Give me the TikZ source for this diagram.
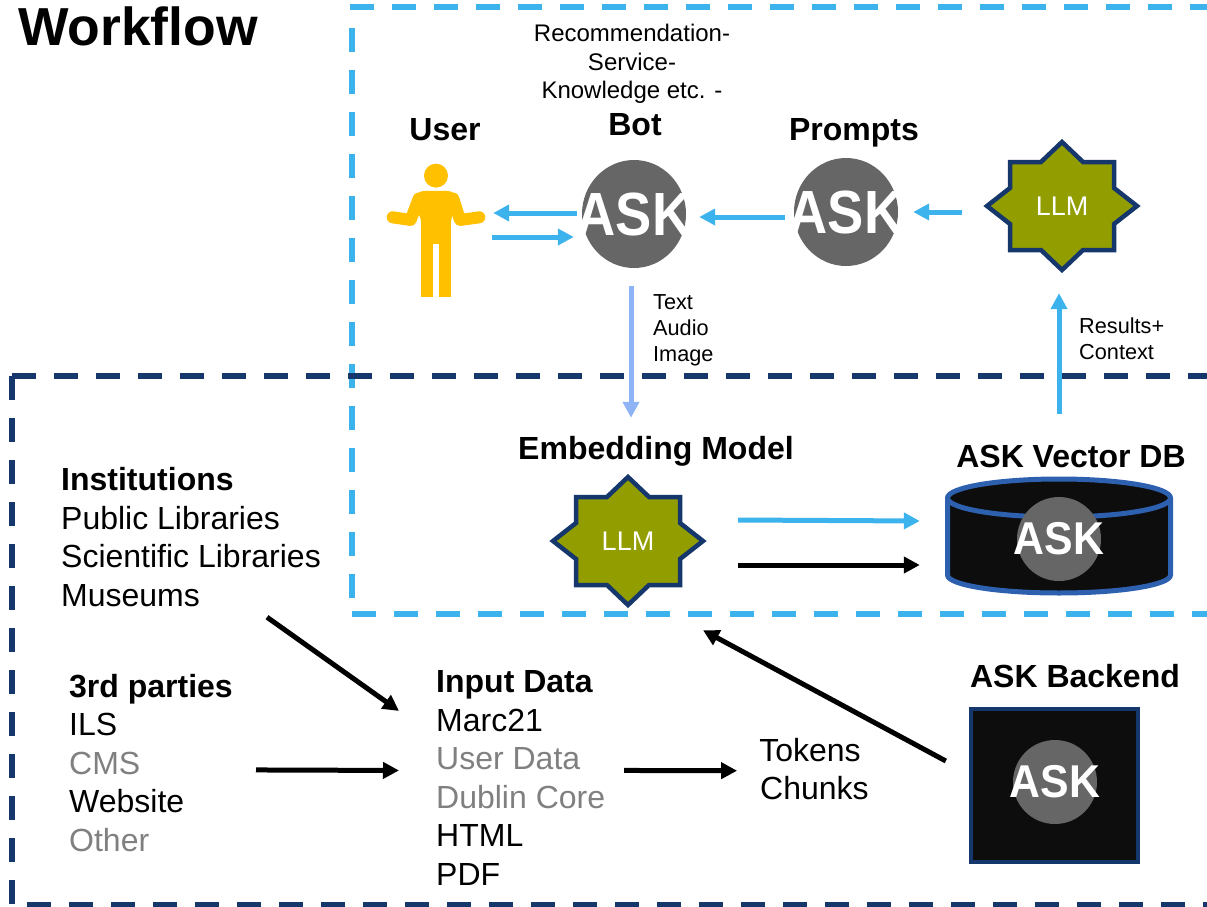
\documentclass[tikz,border=0pt]{standalone}
\usepackage{graphicx}
\usepackage{fontspec}
\setmainfont{Liberation Sans}
\usetikzlibrary{arrows.meta,shapes.geometric}
\definecolor{skyblue}{HTML}{3DB3EE}
\definecolor{navyline}{HTML}{15376B}
\definecolor{paleblue}{HTML}{8FB4F5}
\definecolor{olivefill}{HTML}{929E00}
\definecolor{dbblue}{HTML}{2E60B0}
\definecolor{nearblack}{HTML}{0D0D0D}
\definecolor{logogray}{HTML}{666666}
\definecolor{mutedtext}{HTML}{808080}
\definecolor{personyellow}{HTML}{FFC000}
\newcommand{\fs}[2]{\fontsize{#1}{#2}\selectfont}
\newcommand{\muted}[1]{\textcolor{mutedtext}{#1}}
\newcommand{\biglogo}{\makebox[0pt]{\scalebox{0.89}[1]{ASK}}}
\newcommand{\smalllogo}{\makebox[0pt]{\scalebox{0.93}[1]{ASK}}}
\newcommand{\llmstar}[3]{%
  \filldraw[fill=olivefill,draw=navyline,line width=4.5pt,miter limit=10]
    (#1,#2) ++(0,-64) -- ++(21,20) -- ++(31,0) -- ++(0,26) -- ++(23,18)
    -- ++(-23,18) -- ++(0,26) -- ++(-31,0) -- ++(-21,20) -- ++(-21,-20)
    -- ++(-31,0) -- ++(0,-26) -- ++(-23,-18) -- ++(23,-18) -- ++(0,-26)
    -- ++(31,0) -- cycle;
  \node[llmlabel] (#3) at (#1,#2) {LLM};}
\tikzset{
  x=1pt,y=-1pt,
  skydash/.style={draw=skyblue,line width=6pt,dash pattern=on 24pt off 18pt},
  navydash/.style={draw=navyline,line width=6pt,dash pattern=on 24pt off 18pt},
  blueflow/.style={draw=skyblue,line width=5pt,-{Triangle[length=16pt,width=16pt]}},
  paleflow/.style={draw=paleblue,line width=5pt,-{Triangle[length=16pt,width=16pt]}},
  blackflow/.style={draw=black,line width=5pt,-{Triangle[length=16pt,width=16pt]}},
  asklogo/.style={ellipse,fill=logogray,inner sep=0pt,text=white,font=\bfseries\fs{61}{61},minimum width=104pt,minimum height=108pt},
  asksmall/.style={circle,fill=logogray,inner sep=0pt,text=white,font=\bfseries\fs{46}{46},minimum size=84pt},
  llmlabel/.style={inner sep=0pt,text=white,font=\fs{27}{27},minimum width=146pt,minimum height=124pt},
  heading/.style={inner sep=0pt,font=\bfseries\fs{32}{38.5}},
  listing/.style={inner sep=0pt,anchor=north west,align=left,font=\fs{32}{38.5}},
  smalllabel/.style={inner sep=0pt,anchor=north west,align=left,font=\fs{21.7}{26}},
}
\begin{document}
\begin{tikzpicture}
\useasboundingbox (0,0) rectangle (1207,907);
% frames
\draw[skydash] (350,7) -- (1207,7);
\draw[skydash] (352,28) -- (352,598);
\draw[skydash] (352,614) -- (1207,614);
\draw[navydash] (12,376) -- (1207,376);
\draw[navydash] (12,376) -- (12,905);
\draw[navydash] (27,905) -- (1207,905);
% title
\node[inner sep=0pt,anchor=base west,font=\bfseries\fs{53.5}{53.5}] (title) at (18,46) {Workflow};
% user
\node[inner sep=0pt,minimum width=98pt,minimum height=130pt] (user) at (436,232) {};
\begin{scope}[shift={(370,0)},x=0.3333pt,y=-0.3333pt]
  \fill[personyellow] (198,527) circle (12pt);
  \fill[personyellow,rounded corners=9pt] (153,760) -- (153,640) -- (125,620) -- (135,573) -- (260,573) -- (270,620) -- (243,640) -- (243,760) -- cycle;
  \fill[personyellow] (153,732) rectangle (189,890);
  \fill[personyellow] (207,732) rectangle (243,890);
  \fill[white] (189,732) rectangle (207,770);
  \draw[personyellow,line width=12pt,line cap=round,line join=round] (68,652) -- (122,660) -- (146,596);
  \draw[personyellow,line width=12pt,line cap=round,line join=round] (328,652) -- (270,660) -- (250,596);
\end{scope}
\node[heading] (userlabel) at (445,130) {User};
% bot
\node[asklogo] (bot) at (634,214) {\biglogo};
\node[heading] (botlabel) at (635,125) {Bot};
\node[inner sep=0pt,anchor=north,align=center,font=\fs{24}{28.5}] (botkinds) at (632,24) {Recommendation-\\Service-\\Knowledge etc. -};
% prompts
\node[asklogo] (prompts) at (846,212) {\biglogo};
\node[heading] (promptslabel) at (854,133) {Prompts};
% LLMs
\llmstar{1062}{206}{llmtop}
\llmstar{628}{541}{llmembed}
\node[heading] (embedlabel) at (656,451) {Embedding Model};
% vector DB
\filldraw[fill=nearblack,draw=dbblue,line width=5pt] (947.5,498) -- (947.5,575) arc[start angle=180,end angle=360,x radius=111.5pt,y radius=18pt] -- (1170.5,498) arc[start angle=0,end angle=180,x radius=111.5pt,y radius=19pt] -- cycle;
\draw[draw=dbblue,line width=5pt] (947.5,498) arc[start angle=180,end angle=360,x radius=111.5pt,y radius=19pt];
\node[asksmall] (vectordb) at (1059,539) {\smalllogo};
\node[heading] (vectorlabel) at (1071,456) {ASK Vector DB};
% backend
\draw[fill=nearblack,draw=navyline,line width=4.5pt] (971,709) rectangle (1138,862);
\node[asksmall] (backend) at (1055,782) {\smalllogo};
\node[heading] (backendlabel) at (1075,676) {ASK Backend};
% lists
\node[listing] (institutions) at (61,467.5) {\textbf{Institutions}\\Public Libraries\\Scientific Libraries\\Museums};
\node[listing] (parties) at (69,674) {\textbf{3rd parties}\\ILS\\\muted{CMS}\\Website\\\muted{Other}};
\node[listing] (input) at (436,670.5) {\textbf{Input Data}\\Marc21\\\muted{User Data}\\\muted{Dublin Core}\\HTML\\PDF};
\node[inner sep=0pt,anchor=north,align=center,font=\fs{32}{38.5}] (tokens) at (810,738) {Tokens\\\ Chunks};
\node[smalllabel] (modes) at (653,294) {Text\\Audio\\Image};
\node[smalllabel] (results) at (1079,318) {Results+\\Context};
% connectors
\draw[blueflow] ([shift={(-5,-1)}]bot.west) -- ([shift={(8,-19)}]user.east);
\draw[blueflow] ([shift={(7,5)}]user.east) -- ([shift={(-8,23)}]bot.west);
\draw[blueflow] ([shift={(-9,5)}]prompts.west) -- ([shift={(13,3)}]bot.east);
\draw[blueflow] ([shift={(-27,6)}]llmtop.west) -- ([shift={(15,0)}]prompts.east);
\draw[paleflow] ([shift={(-3,18)}]bot.south) -- ([shift={(3,-61)}]llmembed.north);
\draw[blueflow] ([shift={(0,-83)}]vectordb.north) -- ([shift={(-3,25)}]llmtop.south);
\draw[blueflow] ([shift={(37,-21)}]llmembed.east) -- ([shift={(-97,-18)}]vectordb.west);
\draw[blackflow] ([shift={(37,24)}]llmembed.east) -- ([shift={(-97,26)}]vectordb.west);
\draw[blackflow] ([shift={(206,80)}]institutions.west) -- ([shift={(-37,-67)}]input.west);
\draw[blackflow] ([shift={(187,7)}]parties.west) -- ([shift={(-37,-7.5)}]input.west);
\draw[blackflow] ([shift={(188,-7.5)}]input.west) -- ([shift={(-14,1.5)}]tokens.west);
\draw[blackflow] ([shift={(-67,-21)}]backend.west) -- ([shift={(75,27)}]llmembed.south);
\end{tikzpicture}
\end{document}
